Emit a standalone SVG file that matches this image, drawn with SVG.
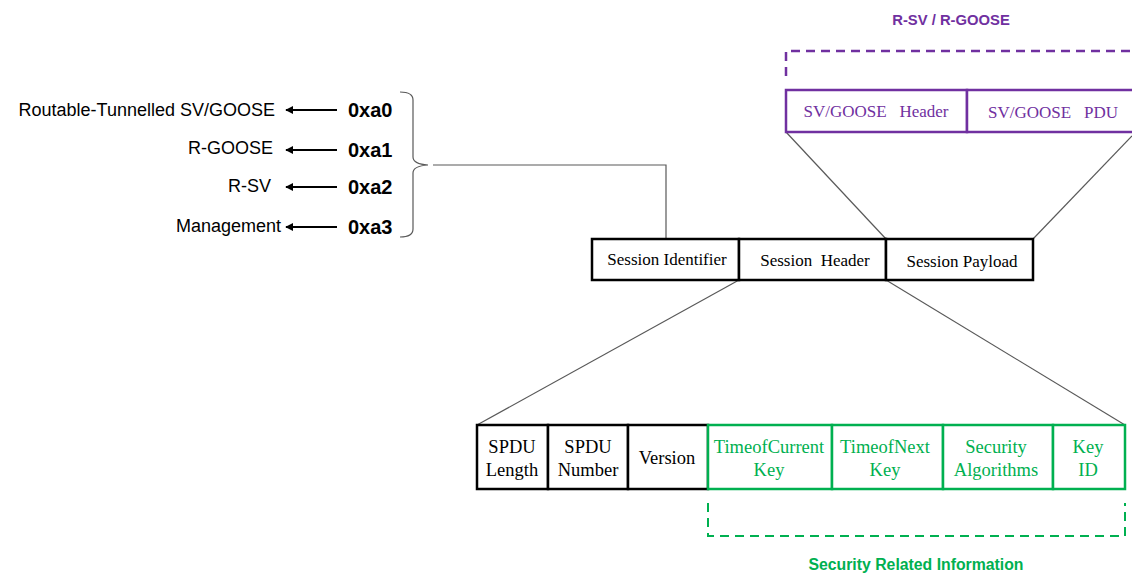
<svg xmlns="http://www.w3.org/2000/svg" width="1132" height="577" viewBox="0 0 1132 577">
  <defs>
    <marker id="arrow" viewBox="0 0 10 10" refX="9" refY="5" markerWidth="4" markerHeight="4" orient="auto">
      <path d="M0 0 L10 5 L0 10 Z" fill="#000"/>
    </marker>
    <style>
      .lbl { font-family: "Liberation Sans", Arial, sans-serif; font-size: 18px; fill: #000; text-anchor: end; }
      .code { font-family: "Liberation Sans", Arial, sans-serif; font-size: 20px; font-weight: bold; fill: #000; }
      .box { fill: #fff; stroke: #000; stroke-width: 2.5; }
      .pbox { fill: #fff; stroke: #7030A0; stroke-width: 2.5; }
      .gbox { fill: #fff; stroke: #00B050; stroke-width: 2.5; }
      .serif { font-family: "Liberation Serif", "Times New Roman", serif; font-size: 17px; text-anchor: middle; white-space: pre; }
      .serif18 { font-family: "Liberation Serif", "Times New Roman", serif; font-size: 18.5px; text-anchor: middle; }
      .blk { fill: #000; }
      .pur { fill: #7030A0; }
      .grn { fill: #00B050; }
      .conn { fill: none; stroke: #595959; stroke-width: 1.2; }
      .arr { stroke: #000; stroke-width: 2; marker-end: url(#arrow); }
      .title { font-family: "Liberation Sans", Arial, sans-serif; font-weight: bold; text-anchor: middle; }
    </style>
  </defs>

  <!-- identifier legend -->
  <g id="legend">
    <text class="lbl" x="275" y="116">Routable-Tunnelled SV/GOOSE</text>
    <text class="lbl" x="273" y="154">R-GOOSE</text>
    <text class="lbl" x="271" y="192">R-SV</text>
    <text class="lbl" x="281" y="232">Management</text>
    <line class="arr" x1="337" y1="110" x2="286" y2="110"/>
    <line class="arr" x1="337" y1="150" x2="286" y2="150"/>
    <line class="arr" x1="337" y1="187" x2="286" y2="187"/>
    <line class="arr" x1="337" y1="227" x2="286" y2="227"/>
    <text class="code" x="348" y="117">0xa0</text>
    <text class="code" x="348" y="157">0xa1</text>
    <text class="code" x="348" y="194">0xa2</text>
    <text class="code" x="348" y="234">0xa3</text>
    <path class="conn" d="M400 92 Q413 92 413 100 V157 Q413 164 428 165 Q413 166 413 173 V229 Q413 237 400 237"/>
  </g>

  <!-- connectors -->
  <g id="connectors">
    <path class="conn" d="M433 165 H666 V239"/>
    <line class="conn" x1="786" y1="132" x2="886" y2="239"/>
    <line class="conn" x1="1132" y1="136" x2="1033" y2="239"/>
    <line class="conn" x1="739" y1="280" x2="477" y2="425"/>
    <line class="conn" x1="886" y1="280" x2="1125" y2="425"/>
  </g>

  <!-- R-SV / R-GOOSE frame -->
  <g id="rsv-rgoose">
    <text class="title pur" x="951" y="25" font-size="14.8">R-SV / R-GOOSE</text>
    <path d="M786 76 V51 H1140" fill="none" stroke="#7030A0" stroke-width="2.5" stroke-dasharray="9 6"/>
    <rect class="pbox" x="786" y="90" width="181" height="42"/>
    <rect class="pbox" x="967" y="90" width="180" height="42"/>
    <text class="serif pur" x="876" y="117" font-size="17.5">SV/GOOSE   Header</text>
    <text class="serif pur" x="1053" y="118" font-size="17.5">SV/GOOSE   PDU</text>
  </g>

  <!-- session layer -->
  <g id="session">
    <rect class="box" x="592" y="239" width="147" height="41"/>
    <rect class="box" x="739" y="239" width="147" height="41"/>
    <rect class="box" x="886" y="239" width="147" height="41"/>
    <text class="serif blk" x="667" y="265">Session Identifier</text>
    <text class="serif blk" x="815" y="266">Session  Header</text>
    <text class="serif blk" x="962" y="267">Session Payload</text>
  </g>

  <!-- session header fields -->
  <g id="header-fields">
    <rect class="box" x="477" y="425" width="71" height="64"/>
    <rect class="box" x="548" y="425" width="80" height="64"/>
    <rect class="box" x="628" y="425" width="80" height="64"/>
    <text class="serif18 blk" x="512" y="453">SPDU</text>
    <text class="serif18 blk" x="512" y="476">Length</text>
    <text class="serif18 blk" x="588" y="453">SPDU</text>
    <text class="serif18 blk" x="588" y="476">Number</text>
    <text class="serif18 blk" x="667" y="464">Version</text>
  </g>

  <!-- security related fields -->
  <g id="security-fields">
    <rect class="gbox" x="708" y="425" width="124" height="64"/>
    <rect class="gbox" x="832" y="425" width="111" height="64"/>
    <rect class="gbox" x="943" y="425" width="110" height="64"/>
    <rect class="gbox" x="1053" y="425" width="72" height="64"/>
    <text class="serif18 grn" x="769" y="453">TimeofCurrent</text>
    <text class="serif18 grn" x="769" y="476">Key</text>
    <text class="serif18 grn" x="885" y="453">TimeofNext</text>
    <text class="serif18 grn" x="885" y="476">Key</text>
    <text class="serif18 grn" x="996" y="453">Security</text>
    <text class="serif18 grn" x="996" y="476">Algorithms</text>
    <text class="serif18 grn" x="1088" y="453">Key</text>
    <text class="serif18 grn" x="1088" y="476">ID</text>
    <path d="M708 503 V536 H1125 V503" fill="none" stroke="#00B050" stroke-width="2" stroke-dasharray="9 6"/>
    <text class="title grn" x="916" y="570" font-size="15.8">Security Related Information</text>
  </g>
</svg>
